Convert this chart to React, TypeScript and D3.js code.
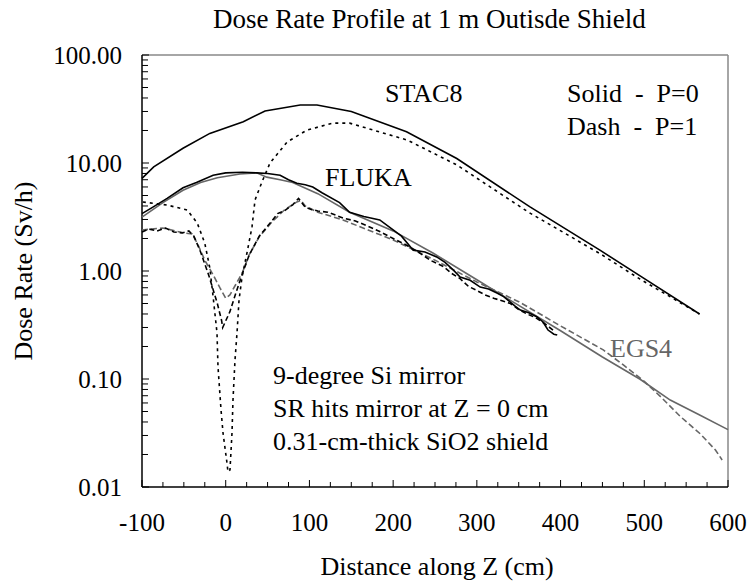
import React from "react";
import * as d3 from "d3";

const W = 751;
const H = 587;

const xTickValues = [-100, 0, 100, 200, 300, 400, 500, 600];
const yTickValues = [0.01, 0.1, 1, 10, 100];

// [Z (cm), dose rate (Sv/h)]
const stac8Solid: [number, number][] = [
  [-100, 7.2], [-86, 9.2], [-51, 13.7], [-19, 18.8], [21, 24.1], [47, 30.3],
  [89, 34.4], [109, 34.4], [150, 30], [216, 19.5], [276, 11.0], [363, 3.94],
  [447, 1.56], [495, 0.9], [566, 0.40],
];

const stac8Dash: [number, number][] = [
  [-99, 4.35], [-70, 4.08], [-46, 3.67], [-34, 2.78], [-25, 1.81], [-19, 1.07],
  [-15, 0.574], [-10.4, 0.267], [-9.2, 0.129], [-5.6, 0.0516], [-3.2, 0.0316],
  [1.5, 0.0167], [2.7, 0.0138], [5.1, 0.0144], [7.5, 0.0316], [8.7, 0.064],
  [11.1, 0.15], [13.5, 0.267], [15.9, 0.539], [19.5, 0.88], [25.4, 1.47],
  [31.4, 2.56], [35, 4.54], [43.3, 6.67], [52.9, 10], [73.2, 15.6], [97.1, 20.2],
  [128, 23.4], [148, 23.4], [176, 20.2], [217, 16.3], [276, 9.6], [363, 3.45],
  [447, 1.45], [495, 0.84], [566, 0.40],
];

const flukaSolid: [number, number][] = [
  [-100, 3.4], [-87, 3.9], [-70, 4.7], [-51, 5.9], [-35, 6.6], [-15, 7.7],
  [0, 8.1], [20, 8.2], [37, 8.1], [50, 8.0], [65, 7.7], [75, 7.0], [85, 6.5],
  [95, 6.3], [104, 6.0], [115, 5.3], [136, 4.3], [148, 3.5], [165, 3.2],
  [184, 2.97], [200, 2.4], [210, 2.1], [224, 1.56], [238, 1.5], [252, 1.35],
  [262, 1.2], [272, 1.02], [280, 0.88], [292, 0.82], [304, 0.71], [314, 0.68],
  [324, 0.625], [332, 0.58], [340, 0.516], [346, 0.47], [352, 0.435],
  [362, 0.41], [372, 0.375], [379, 0.337], [385, 0.284], [389, 0.27],
  [392, 0.26], [396, 0.255],
];

const flukaDash: [number, number][] = [
  [-100, 2.3], [-92, 2.45], [-82, 2.35], [-72, 2.5], [-62, 2.3], [-52, 2.25],
  [-44, 2.35], [-38, 2.1], [-30, 1.5], [-20, 0.9], [-10, 0.5], [-5, 0.35],
  [-3.6, 0.3], [5, 0.42], [12, 0.62], [20, 0.95], [28, 1.4], [40, 2.1],
  [55, 2.9], [62, 3.4], [70, 3.6], [80, 4.1], [87, 4.7], [95, 3.9], [103, 3.7],
  [110, 3.6], [122, 3.5], [140, 3.1], [155, 2.9], [170, 2.6], [185, 2.3],
  [200, 2.0], [215, 1.75], [230, 1.5], [245, 1.25], [260, 1.1], [270, 0.95],
  [280, 0.85], [290, 0.72], [300, 0.66], [310, 0.6], [320, 0.56], [330, 0.53],
  [340, 0.5], [350, 0.44], [360, 0.4], [370, 0.37], [380, 0.33], [392, 0.28],
];

const egs4Solid: [number, number][] = [
  [-100, 3.16], [-75, 4.3], [-51, 5.6], [-30, 6.6], [-10, 7.3], [17, 7.9],
  [37, 8.1], [49, 7.4], [65, 7.0], [80, 6.6], [110, 5.2], [148, 3.5],
  [200, 2.35], [248, 1.46], [300, 0.83], [350, 0.48], [400, 0.28], [450, 0.16],
  [495, 0.0995], [531, 0.0638], [565, 0.047], [600, 0.034],
];

const egs4Dash: [number, number][] = [
  [-100, 2.4], [-75, 2.5], [-50, 2.25], [-40, 2.2], [-33, 1.74], [-25, 1.26],
  [-15, 0.92], [-7, 0.7], [0, 0.56], [5, 0.6], [12, 0.75], [20, 0.97],
  [28, 1.41], [40, 2.07], [55, 2.83], [70, 3.67], [85, 4.36], [90, 4.5],
  [95, 4.0], [110, 3.5], [140, 2.97], [170, 2.4], [200, 1.94], [250, 1.26],
  [300, 0.79], [350, 0.52], [400, 0.31], [451, 0.186], [475, 0.135],
  [500, 0.095], [520, 0.068], [543, 0.045], [567, 0.031], [585, 0.022],
  [593, 0.0178],
];

const margin = { left: 142, right: 728, top: 55, bottom: 487 };
const FONT = "'Liberation Serif', 'DejaVu Serif', serif";

export default function App() {
  const x = d3.scaleLinear().domain([-100, 600]).range([margin.left, margin.right]);
  const y = d3.scaleLog().domain([0.01, 100]).range([margin.bottom, margin.top]);
  const line = d3
    .line<[number, number]>()
    .x((d) => x(d[0]))
    .y((d) => y(d[1]));

  const xMinor = d3.range(-100, 601, 25);
  const yMinor: number[] = [];
  for (let e = -2; e < 2; e++) {
    for (let m = 2; m <= 9; m++) yMinor.push(m * Math.pow(10, e));
  }
  const fmt = d3.format(".2f");
  const ts: React.CSSProperties = { fontFamily: FONT };
  const tsPre: React.CSSProperties = { fontFamily: FONT, whiteSpace: "pre" };

  return (
    <svg
      width={W}
      height={H}
      style={{ position: "absolute", left: 0, top: 0, background: "#fff", fontFamily: FONT }}
    >
      <rect x={0} y={0} width={W} height={H} fill="#fff" />
      <text x={213} y={28} fontSize={27} fill="#000" style={ts}>
        Dose Rate Profile at 1 m Outisde Shield
      </text>

      {/* frame */}
      <line x1={margin.left} x2={margin.right} y1={margin.top} y2={margin.top} stroke="#888" strokeWidth={1.5} />
      <line x1={margin.right} x2={margin.right} y1={margin.top} y2={margin.bottom} stroke="#888" strokeWidth={1.5} />
      <line x1={margin.left} x2={margin.right} y1={margin.bottom} y2={margin.bottom} stroke="#000" strokeWidth={1.5} />
      <line x1={margin.left} x2={margin.left} y1={margin.top} y2={margin.bottom} stroke="#000" strokeWidth={1.5} />

      {/* x ticks */}
      {xMinor.map((v) => (
        <line
          key={"xt" + v}
          x1={x(v)}
          x2={x(v)}
          y1={margin.bottom}
          y2={margin.bottom - (v % 100 === 0 ? 7 : 5)}
          stroke="#000"
          strokeWidth={1}
        />
      ))}
      {xTickValues.map((v) => (
        <text key={"xl" + v} x={x(v)} y={531} fontSize={25} textAnchor="middle" fill="#000" style={ts}>
          {v}
        </text>
      ))}

      {/* y ticks */}
      {yTickValues.map((v) => (
        <line key={"ytM" + v} x1={margin.left} x2={margin.left + 7} y1={y(v)} y2={y(v)} stroke="#000" strokeWidth={1} />
      ))}
      {yMinor.map((v) => (
        <line key={"ytm" + v} x1={margin.left} x2={margin.left + 6} y1={y(v)} y2={y(v)} stroke="#000" strokeWidth={1} />
      ))}
      {yTickValues.map((v) => (
        <text key={"yl" + v} x={122} y={y(v) + 8.5} fontSize={25} textAnchor="end" fill="#000" style={ts}>
          {fmt(v)}
        </text>
      ))}

      <text x={437} y={575} fontSize={26} textAnchor="middle" fill="#000" style={ts}>
        Distance along Z (cm)
      </text>
      <text
        transform={`translate(32, 271) rotate(-90)`}
        fontSize={26}
        textAnchor="middle"
        fill="#000"
        style={ts}
      >
        Dose Rate (Sv/h)
      </text>

      {/* curves */}
      <path d={line(egs4Solid) || ""} fill="none" stroke="#666" strokeWidth={1.6} />
      <path d={line(egs4Dash) || ""} fill="none" stroke="#666" strokeWidth={1.6} strokeDasharray="6,3" />
      <path d={line(flukaDash) || ""} fill="none" stroke="#000" strokeWidth={1.6} strokeDasharray="5,3" />
      <path d={line(flukaSolid) || ""} fill="none" stroke="#000" strokeWidth={1.6} />
      <path d={line(stac8Dash) || ""} fill="none" stroke="#000" strokeWidth={1.6} strokeDasharray="3,4" />
      <path d={line(stac8Solid) || ""} fill="none" stroke="#000" strokeWidth={1.6} />

      {/* annotations */}
      <text x={385} y={102} fontSize={26} fill="#000" style={ts}>STAC8</text>
      <text x={567} y={102} fontSize={26} fill="#000" style={tsPre}>
        {"Solid  -  P=0"}
      </text>
      <text x={567} y={135} fontSize={26} fill="#000" style={tsPre}>
        {"Dash  -  P=1"}
      </text>
      <text x={325} y={186} fontSize={26} fill="#000" style={ts}>FLUKA</text>
      <text x={610} y={357} fontSize={26} fill="#666" style={ts}>EGS4</text>
      <text x={273} y={384} fontSize={26} fill="#000" style={ts}>9-degree Si mirror</text>
      <text x={273} y={417} fontSize={26} fill="#000" style={ts}>SR hits mirror at Z = 0 cm</text>
      <text x={273} y={450} fontSize={26} fill="#000" style={ts}>0.31-cm-thick SiO2 shield</text>
    </svg>
  );
}
